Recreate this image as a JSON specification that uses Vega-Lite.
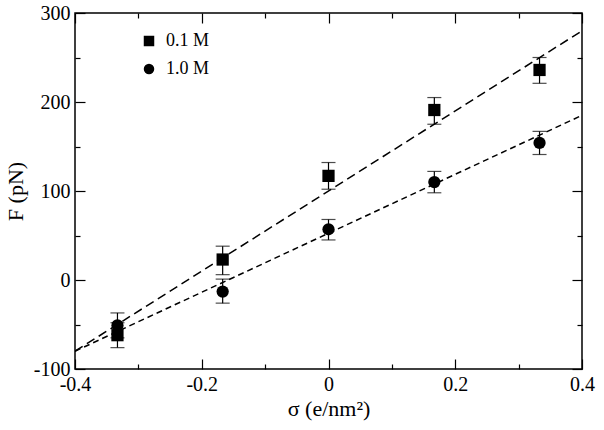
{
  "$schema": "https://vega.github.io/schema/vega-lite/v6.json",
  "width": 507,
  "height": 356,
  "autosize": {"type": "none"},
  "padding": {"left": 75, "top": 13, "right": 22, "bottom": 61},
  "background": "white",
  "config": {
    "view": {"stroke": "black", "strokeWidth": 1.5},
    "font": "Liberation Serif",
    "axis": {"domain": false, "grid": false, "tickColor": "black", "tickWidth": 1.2, "labelColor": "black", "titleColor": "black"}
  },
  "datasets": {
    "pts": [
      {"series": "0.1 M", "sigma": -0.333, "F": -62, "lo": -76, "hi": -48},
      {"series": "0.1 M", "sigma": -0.167, "F": 23, "lo": 6, "hi": 38},
      {"series": "0.1 M", "sigma": 0.0, "F": 117, "lo": 102, "hi": 132},
      {"series": "0.1 M", "sigma": 0.167, "F": 191, "lo": 175, "hi": 205},
      {"series": "0.1 M", "sigma": 0.333, "F": 236, "lo": 221, "hi": 250},
      {"series": "1.0 M", "sigma": -0.333, "F": -51, "lo": -65, "hi": -37},
      {"series": "1.0 M", "sigma": -0.167, "F": -13, "lo": -26, "hi": 1},
      {"series": "1.0 M", "sigma": 0.0, "F": 57, "lo": 45, "hi": 68},
      {"series": "1.0 M", "sigma": 0.167, "F": 110, "lo": 98, "hi": 122},
      {"series": "1.0 M", "sigma": 0.333, "F": 154, "lo": 141, "hi": 167}
    ],
    "fits": [
      {"series": "0.1 M", "sigma": -0.4, "F": -80},
      {"series": "0.1 M", "sigma": 0.4, "F": 280},
      {"series": "1.0 M", "sigma": -0.4, "F": -80},
      {"series": "1.0 M", "sigma": 0.4, "F": 185}
    ]
  },
  "resolve": {"axis": {"x": "independent", "y": "independent"}},
  "layer": [
    {
      "data": {"name": "fits"},
      "transform": [{"filter": "datum.series == '0.1 M'"}],
      "mark": {"type": "line", "color": "black", "strokeWidth": 1.5, "strokeDash": [9, 5], "clip": true},
      "encoding": {
        "x": {
          "field": "sigma", "type": "quantitative",
          "scale": {"domain": [-0.4, 0.4], "nice": false, "zero": false},
          "axis": {
            "orient": "bottom",
            "title": "σ (e/nm²)",
            "values": [-0.4, -0.2, 0, 0.2, 0.4],
            "labelExpr": "datum.value == 0 ? '0' : replace(datum.label, '−', '-')",
            "tickSize": 10,
            "offset": -10,
            "labelFont": "Liberation Serif",
            "labelFontSize": 20,
            "titleFont": "Liberation Serif",
            "titleFontSize": 22,
            "titleFontWeight": "normal",
            "labelPadding": 5,
            "titlePadding": 4,
            "labelFlush": false
          }
        },
        "y": {
          "field": "F", "type": "quantitative",
          "scale": {"domain": [-100, 300], "nice": false, "zero": false},
          "axis": {
            "orient": "left",
            "title": "F (pN)",
            "values": [-100, 0, 100, 200, 300],
            "labelExpr": "replace(datum.label, '−', '-')",
            "tickSize": 10,
            "offset": -10,
            "labelFont": "Liberation Serif",
            "labelFontSize": 20,
            "titleFont": "Liberation Serif",
            "titleFontSize": 22,
            "titleFontWeight": "normal",
            "labelPadding": 5,
            "titlePadding": 6,
            "labelFlush": false
          }
        }
      }
    },
    {
      "data": {"name": "fits"},
      "transform": [{"filter": "datum.series == '1.0 M'"}],
      "mark": {"type": "line", "color": "black", "strokeWidth": 1.5, "strokeDash": [6, 4], "clip": true},
      "encoding": {
        "x": {
          "field": "sigma", "type": "quantitative",
          "axis": {"orient": "top", "title": null, "labels": false, "values": [-0.4, -0.2, 0, 0.2, 0.4], "tickSize": 10, "offset": -10}
        },
        "y": {
          "field": "F", "type": "quantitative",
          "axis": {"orient": "right", "title": null, "labels": false, "values": [-100, 0, 100, 200, 300], "tickSize": 10, "offset": -10}
        }
      }
    },
    {
      "data": {"name": "pts"},
      "mark": {"type": "errorbar", "ticks": {"size": 14, "thickness": 1.2, "color": "black"}, "color": "black", "thickness": 1.2},
      "encoding": {
        "x": {
          "field": "sigma", "type": "quantitative",
          "axis": {"orient": "bottom", "title": null, "labels": false, "values": [-0.3, -0.1, 0.1, 0.3], "tickSize": 5, "offset": -5}
        },
        "y": {
          "field": "lo", "type": "quantitative",
          "axis": {"orient": "left", "title": null, "labels": false, "values": [-50, 50, 150, 250], "tickSize": 5, "offset": -5}
        },
        "y2": {"field": "hi"}
      }
    },
    {
      "data": {"name": "pts"},
      "mark": {"type": "point", "filled": true, "color": "black", "opacity": 1, "size": 150},
      "encoding": {
        "x": {
          "field": "sigma", "type": "quantitative",
          "axis": {"orient": "top", "title": null, "labels": false, "values": [-0.3, -0.1, 0.1, 0.3], "tickSize": 5, "offset": -5}
        },
        "y": {
          "field": "F", "type": "quantitative",
          "axis": {"orient": "right", "title": null, "labels": false, "values": [-50, 50, 150, 250], "tickSize": 5, "offset": -5}
        },
        "shape": {
          "field": "series", "type": "nominal",
          "scale": {"domain": ["0.1 M", "1.0 M"], "range": ["square", "circle"]},
          "legend": {
            "title": null,
            "orient": "none",
            "legendX": 65,
            "legendY": 19,
            "padding": 0,
            "symbolSize": 110,
            "symbolFillColor": "black",
            "symbolStrokeColor": "black",
            "labelFont": "Liberation Serif",
            "labelFontSize": 18,
            "labelColor": "black",
            "labelOffset": 8,
            "rowPadding": 10
          }
        }
      }
    }
  ]
}
